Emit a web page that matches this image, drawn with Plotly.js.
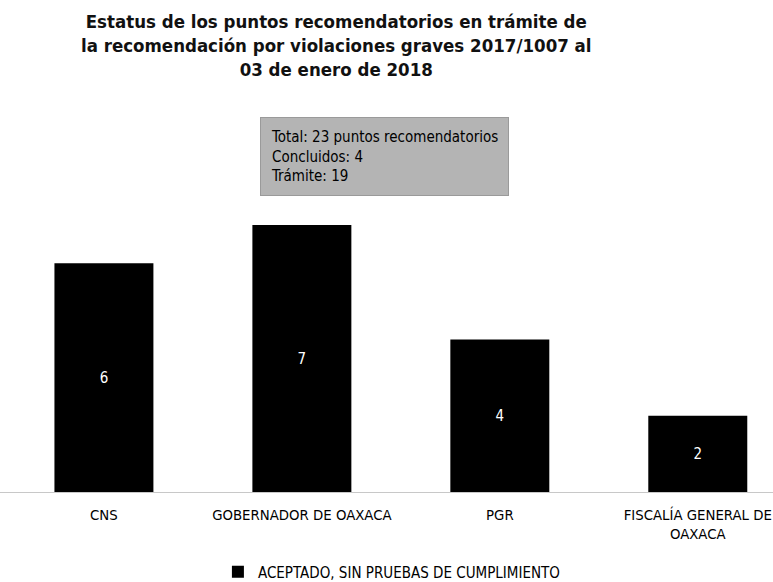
<!DOCTYPE html>
<html>
<head>
<meta charset="utf-8">
<script src="https://cdn.plot.ly/plotly-3.0.1.min.js"></script>
<style>
  html, body { margin: 0; padding: 0; background: #fff; }
  #graph { width: 773px; height: 582px; }
</style>
</head>
<body>
<div id="graph"></div>
<script>
const categorias = ['CNS', 'GOBERNADOR DE OAXACA', 'PGR', 'FISCALÍA GENERAL DE<br>OAXACA']
const valores = [6, 7, 4, 2]
const nombreSerie = 'ACEPTADO, SIN PRUEBAS DE CUMPLIMIENTO'
const totalPuntos = 23
const concluidos = 4
const enTramite = 19

const fuente = 'DejaVu Sans Condensed, DejaVu Sans, sans-serif'

const graphData = [
    {
        x: categorias,
        y: valores,
        type: 'bar',
        name: nombreSerie,
        marker: { color: '#000000' },
        text: valores.map(String),
        textposition: 'inside',
        insidetextanchor: 'middle',
        textfont: { color: '#ffffff', size: 15, family: fuente },
        hoverinfo: 'none'
    }
]

const layout = {
    width: 773,
    height: 582,
    margin: { l: 0, r: 0, t: 206, b: 90 },
    paper_bgcolor: '#ffffff',
    plot_bgcolor: '#ffffff',
    font: { family: fuente, color: '#000000' },
    title: {
        text: 'Estatus de los puntos recomendatorios en trámite de<br>la recomendación por violaciones graves 2017/1007 al<br>03 de enero de 2018',
        font: { size: 18.5, family: fuente, weight: 'bold', color: '#111' },
        xref: 'container',
        x: 0.435,
        xanchor: 'center',
        yref: 'container',
        y: 0.952,
        yanchor: 'top'
    },
    bargap: 0.5,
    showlegend: true,
    legend: {
        orientation: 'h',
        xref: 'container',
        x: 0.507,
        xanchor: 'center',
        yref: 'container',
        y: 0.017,
        yanchor: 'middle',
        font: { size: 15 }
    },
    xaxis: {
        range: [-0.525, 3.38],
        showline: true,
        linecolor: '#c8c8c8',
        linewidth: 1,
        ticks: '',
        ticklabelstandoff: 9,
        tickfont: { size: 14.8, color: '#000' },
        fixedrange: true
    },
    yaxis: {
        range: [0, 7.5],
        visible: false,
        fixedrange: true
    },
    annotations: [
        {
            xref: 'paper',
            yref: 'paper',
            x: 0.336,
            y: 1.035,
            xanchor: 'left',
            yanchor: 'bottom',
            align: 'left',
            showarrow: false,
            text: 'Total: ' + totalPuntos + ' puntos recomendatorios<br>Concluidos: ' + concluidos + '<br>Trámite: ' + enTramite,
            font: { size: 15, color: '#000' },
            bgcolor: '#b4b4b4',
            bordercolor: '#9a9a9a',
            borderwidth: 1,
            borderpad: 10
        }
    ]
}

Plotly.newPlot('graph', graphData, layout, { displayModeBar: false, staticPlot: true })
</script>
</body>
</html>
